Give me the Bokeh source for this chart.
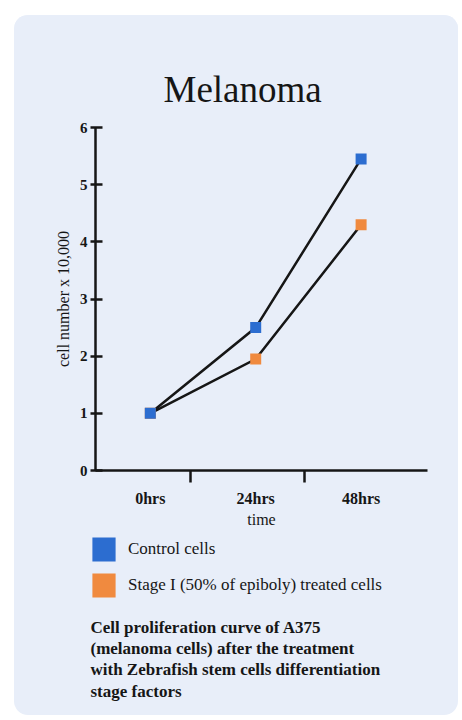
from bokeh.plotting import figure
from bokeh.layouts import column
from bokeh.models import FixedTicker, Legend, LegendItem, Label, ColumnDataSource
from bokeh.embed import file_html
from bokeh.resources import INLINE

# ---- data ----
times = ["0hrs", "24hrs", "48hrs"]
control = [1.0, 2.5, 5.45]
stage1 = [1.0, 1.95, 4.3]
series_names = ["Control cells", "Stage I (50% of epiboly) treated cells"]
y_ticks = [0, 1, 2, 3, 4, 5, 6]
caption = ("Cell proliferation curve of A375\n"
           "(melanoma cells) after the treatment\n"
           "with Zebrafish stem cells differentiation\n"
           "stage factors")

BLUE = "#2c6dd0"
ORANGE = "#f08a3f"
CARD = "#e8eef9"
INK = "#161616"
SERIF = "Liberation Serif"

xs = list(range(len(times)))
src = ColumnDataSource(dict(x=xs, control=control, stage1=stage1))

# ---------------- chart ----------------
p = figure(width=444, height=515, output_backend="svg", toolbar_location=None,
           x_range=(-0.52, 2.63), y_range=(0, 6),
           min_border_left=81, min_border_right=31, min_border_top=112,
           min_border_bottom=60, title="Melanoma")
p.frame_align = False
p.background_fill_color = None
p.border_fill_color = CARD
p.outline_line_color = None
p.grid.visible = False

p.title.align = "left"
p.title.offset = 68
p.title.text_font = SERIF
p.title.text_font_style = "normal"
p.title.text_font_size = "37px"
p.title.text_color = INK
p.title.standoff = 35

p.line("x", "stage1", source=src, line_color=INK, line_width=2.5)
p.line("x", "control", source=src, line_color=INK, line_width=2.5)
p.rect("x", "stage1", source=src, width=11, height=11,
       width_units="screen", height_units="screen",
       fill_color=ORANGE, line_color=None)
p.rect("x", "control", source=src, width=11, height=11,
       width_units="screen", height_units="screen",
       fill_color=BLUE, line_color=None)

xa = p.xaxis[0]
xa.ticker = FixedTicker(ticks=xs, minor_ticks=[0.38, 1.46])
xa.major_label_overrides = {i: t for i, t in enumerate(times)}
xa.major_tick_out = 0
xa.major_tick_in = 0
xa.minor_tick_out = 12
xa.minor_tick_in = 0
xa.minor_tick_line_width = 2.5
xa.minor_tick_line_color = INK
xa.axis_line_width = 2.5
xa.axis_line_color = INK
xa.major_label_standoff = 7
xa.major_label_text_font = SERIF
xa.major_label_text_font_style = "bold"
xa.major_label_text_font_size = "16px"
xa.major_label_text_color = INK
xa.axis_label = "time"
xa.axis_label_text_font = SERIF
xa.axis_label_text_font_style = "normal"
xa.axis_label_text_font_size = "16px"
xa.axis_label_text_color = INK
xa.axis_label_standoff = 1

ya = p.yaxis[0]
ya.ticker = FixedTicker(ticks=y_ticks, minor_ticks=[])
ya.major_tick_out = 5
ya.major_tick_in = 7
ya.major_tick_line_width = 2.5
ya.major_tick_line_color = INK
ya.axis_line_width = 2.5
ya.axis_line_color = INK
ya.major_label_standoff = 3
ya.major_label_text_font = SERIF
ya.major_label_text_font_style = "bold"
ya.major_label_text_font_size = "15px"
ya.major_label_text_color = INK
ya.axis_label = "cell number x 10,000"
ya.axis_label_text_font = SERIF
ya.axis_label_text_font_style = "normal"
ya.axis_label_text_font_size = "16px"
ya.axis_label_text_color = INK
ya.axis_label_standoff = 5

# ---------------- legend + caption panel ----------------
q = figure(width=444, height=185, output_backend="svg", toolbar_location=None,
           x_range=(-0.52, 2.63), y_range=(0, 6),
           x_axis_type=None, y_axis_type=None,
           min_border_left=0, min_border_right=0, min_border_top=0,
           min_border_bottom=0)
q.frame_align = False
q.background_fill_color = None
q.border_fill_color = CARD
q.outline_line_color = None
q.grid.visible = False

lg_ctrl = q.rect("x", "control", source=src, width=11, height=11,
                 width_units="screen", height_units="screen",
                 fill_color=BLUE, line_color=None, visible=False)
lg_stage = q.rect("x", "stage1", source=src, width=11, height=11,
                  width_units="screen", height_units="screen",
                  fill_color=ORANGE, line_color=None, visible=False)

legend = Legend(items=[LegendItem(label=series_names[0], renderers=[lg_ctrl]),
                       LegendItem(label=series_names[1], renderers=[lg_stage])],
                location=(75, 115), orientation="vertical",
                glyph_width=29, glyph_height=30, spacing=6, padding=0, margin=0,
                label_standoff=10, label_text_font=SERIF,
                label_text_font_size="17px", label_text_color=INK,
                inactive_fill_alpha=0,
                background_fill_alpha=0, border_line_color=None)
q.add_layout(legend)

q.add_layout(Label(x=76, y=98, x_units="screen", y_units="screen",
                   text=caption, text_font=SERIF, text_font_style="bold",
                   text_font_size="17px", text_color=INK,
                   text_baseline="top", text_line_height=1.13))

layout = column(p, q, spacing=0)
layout.margin = (15, 4, 5, 14)
layout.styles = {"background-color": CARD, "border-radius": "14px",
                 "overflow": "hidden"}

open("out.html", "w").write(file_html(layout, INLINE))
